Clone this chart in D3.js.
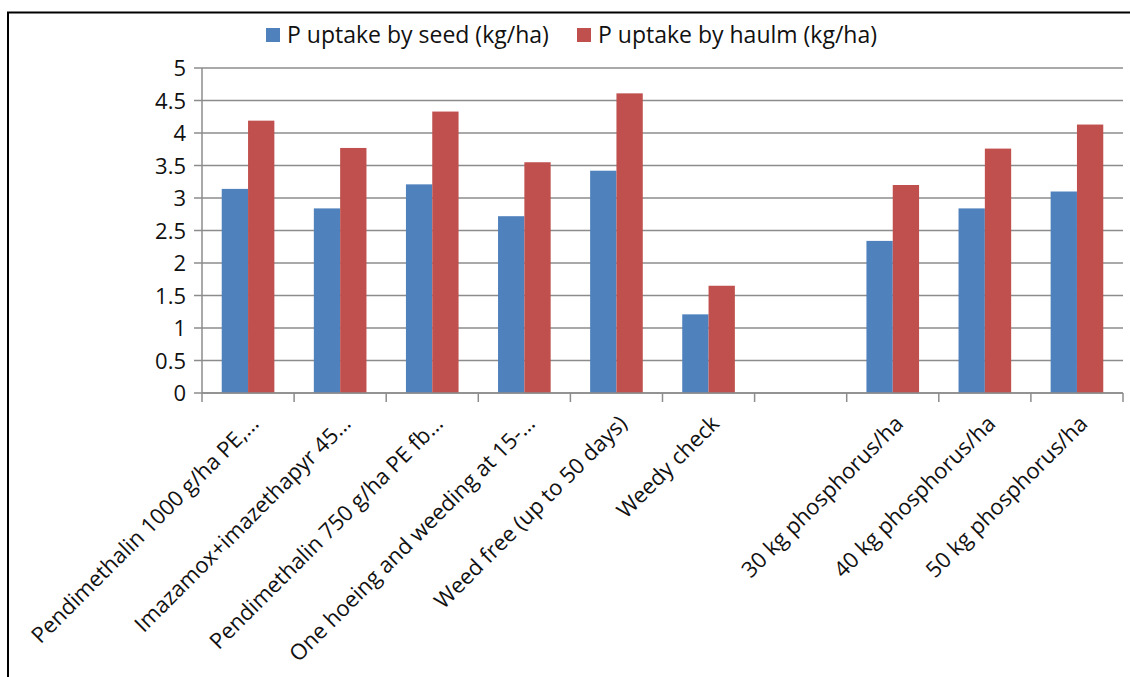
<!DOCTYPE html>
<html>
<head>
<meta charset="utf-8">
<script src="https://cdn.jsdelivr.net/npm/d3@7"></script>
<style>
  body { margin: 0; background: #fff; }
  text { font-family: "Open Sans", sans-serif; fill: #111; }
</style>
</head>
<body>
<div id="chart"></div>
<script>
// data
var categories = [
    "Pendimethalin 1000 g/ha PE,…",
    "Imazamox+imazethapyr 45…",
    "Pendimethalin 750 g/ha PE fb…",
    "One hoeing and weeding at 15-…",
    "Weed free (up to 50 days)",
    "Weedy check",
    "",
    "30 kg phosphorus/ha",
    "40 kg phosphorus/ha",
    "50 kg phosphorus/ha"
];
var seedValues = [3.14, 2.84, 3.21, 2.72, 3.42, 1.21, null, 2.34, 2.84, 3.10];
var haulmValues = [4.19, 3.77, 4.33, 3.55, 4.61, 1.65, null, 3.20, 3.76, 4.13];
var seriesNames = ["P uptake by seed (kg/ha)", "P uptake by haulm (kg/ha)"];
var seriesColors = ["#4f81bd", "#c0504d"];
var yTicks = [0, 0.5, 1, 1.5, 2, 2.5, 3, 3.5, 4, 4.5, 5];

var width = 1130, height = 677;
var margin = { top: 68, right: 7, bottom: 284, left: 202 };
var innerW = width - margin.left - margin.right,
    innerH = height - margin.top - margin.bottom;

var svg = d3.select("#chart").append("svg")
    .attr("width", width)
    .attr("height", height);

// frame around the chart
svg.append("path")
    .attr("d", "M8,677 L8,12.5 L1130,12.5")
    .attr("fill", "none")
    .attr("stroke", "#000")
    .attr("stroke-width", 2);

var g = svg.append("g")
    .attr("transform", "translate(" + margin.left + "," + margin.top + ")");

var x = d3.scaleBand()
    .domain(d3.range(categories.length))
    .range([0, innerW]);

var x1 = d3.scaleBand()
    .domain([0, 1])
    .range([0, x.bandwidth()])
    .paddingInner(0)
    .paddingOuter(0.75);

var y = d3.scaleLinear()
    .domain([0, 5])
    .range([innerH, 0]);

// gridlines
g.append("g")
    .selectAll("line")
    .data(yTicks)
    .enter()
    .append("line")
    .attr("x1", -8)
    .attr("x2", innerW)
    .attr("y1", function (d) { return y(d); })
    .attr("y2", function (d) { return y(d); })
    .attr("stroke", "#8c8c8c")
    .attr("stroke-width", 1.5);

// y axis
var yAxis = d3.axisLeft(y)
    .tickValues(yTicks)
    .tickSize(0)
    .tickPadding(16)
    .tickFormat(d3.format("~g"));

var gy = g.append("g").call(yAxis);
gy.select(".domain").remove();
gy.selectAll("text")
    .style("font-size", "22px")
    .attr("dy", "0.35em");

g.append("line")
    .attr("x1", 0).attr("x2", 0)
    .attr("y1", 0).attr("y2", innerH)
    .attr("stroke", "#8c8c8c")
    .attr("stroke-width", 1.5);

// bars
var rows = categories.map(function (c, i) {
    return { i: i, vals: [seedValues[i], haulmValues[i]] };
});

var groups = g.selectAll(".grp")
    .data(rows)
    .enter()
    .append("g")
    .attr("class", "grp")
    .attr("transform", function (d) { return "translate(" + x(d.i) + ",0)"; });

groups.selectAll("rect")
    .data(function (d) {
        return d.vals.map(function (v, k) { return { k: k, v: v }; })
            .filter(function (e) { return e.v != null; });
    })
    .enter()
    .append("rect")
    .attr("x", function (d) { return x1(d.k); })
    .attr("width", x1.bandwidth())
    .attr("y", function (d) { return y(d.v); })
    .attr("height", function (d) { return innerH - y(d.v); })
    .attr("fill", function (d) { return seriesColors[d.k]; });

// x axis
var tickPos = d3.range(categories.length + 1).map(function (i) {
    return i < categories.length ? x(i) : innerW;
});

var gx = g.append("g")
    .attr("transform", "translate(0," + innerH + ")");

gx.append("line")
    .attr("x1", 0).attr("x2", innerW)
    .attr("stroke", "#8c8c8c")
    .attr("stroke-width", 1.5);

gx.selectAll(".tk")
    .data(tickPos)
    .enter()
    .append("line")
    .attr("class", "tk")
    .attr("x1", function (d) { return d; })
    .attr("x2", function (d) { return d; })
    .attr("y1", 0)
    .attr("y2", 9)
    .attr("stroke", "#8c8c8c")
    .attr("stroke-width", 1.5);

gx.selectAll(".lbl")
    .data(categories)
    .enter()
    .append("text")
    .attr("class", "lbl")
    .attr("text-anchor", "end")
    .attr("transform", function (d, i) {
        return "translate(" + (x(i) + x.bandwidth() / 2 + 12) + ",32) rotate(-45)";
    })
    .style("font-size", "22px")
    .text(function (d) { return d; });

// legend
var legend = svg.append("g");
var legendX = [266, 577];
seriesNames.forEach(function (name, k) {
    legend.append("rect")
        .attr("x", legendX[k])
        .attr("y", 28)
        .attr("width", 14)
        .attr("height", 14)
        .attr("fill", seriesColors[k]);
    legend.append("text")
        .attr("x", legendX[k] + 21)
        .attr("y", 43)
        .style("font-size", "23px")
        .text(name);
});
</script>
</body>
</html>
